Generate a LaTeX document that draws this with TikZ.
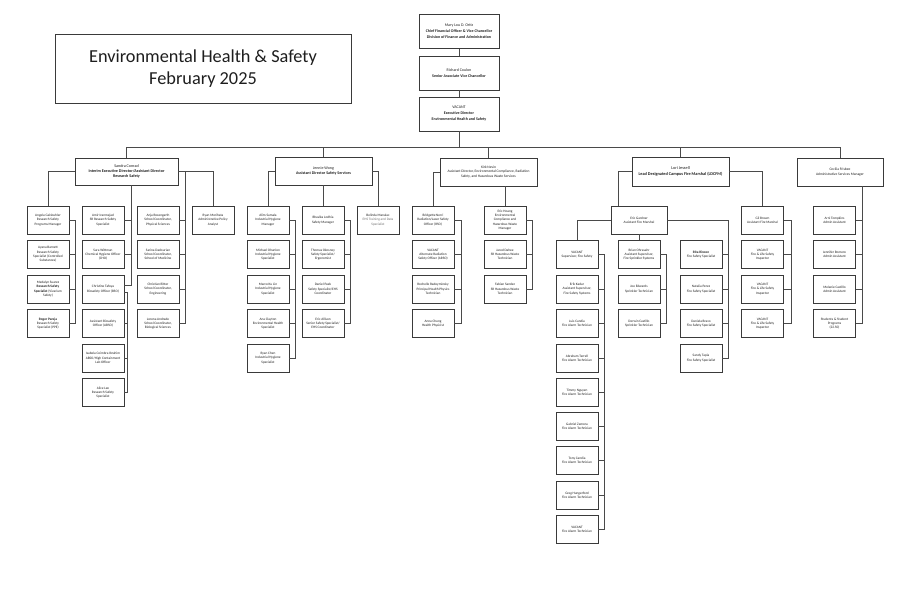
\documentclass[tikz,border=0pt]{standalone}
\usepackage{fontspec}
\setmainfont{Carlito}
\definecolor{boxc}{HTML}{3A3A3A}
\definecolor{linec}{HTML}{4A4A4A}
\definecolor{txtc}{HTML}{1E1E1E}
\definecolor{softc}{HTML}{707070}
\tikzset{
  kb/.style={draw=boxc, line width=0.85pt, fill=white, rectangle, align=center,
    inner sep=0.5pt, minimum width=42, minimum height=28, text=txtc,
    font=\fontsize{3.45}{4.3}\selectfont},
  hb/.style={kb, minimum height=28, font=\fontsize{4.1}{5.2}\selectfont},
  ln/.style={draw=linec, line width=0.85pt},
}
\newcommand{\mkbox}[4]{\node[kb] (#1) at (#2,#3) {#4};}
\begin{document}
\begin{tikzpicture}[x=1pt,y=-1pt]
\useasboundingbox (0,0) rectangle (920,590);
\fill[white] (0,0) rectangle (920,590);

% title
\node[draw=boxc, line width=0.9pt, minimum width=296, minimum height=69, align=center,
  font=\fontsize{18.3}{22.5}\selectfont, text=txtc] (title) at (203,68.5)
  {Environmental Health \& Safety\\February 2025};

% top chain
\node[hb, minimum width=80, minimum height=34.5, font=\fontsize{4}{6}\selectfont] (mary) at (459,31.2)
  {Mary Lou D. Ortiz\\\textbf{Chief Financial Officer \& Vice Chancellor}\\\textbf{Division of Finance and Administration}};
\node[hb, minimum width=80, minimum height=34, font=\fontsize{4}{6}\selectfont] (richard) at (459,73)
  {Richard Coulon\\\textbf{Senior Associate Vice Chancellor}};
\node[hb, minimum width=80, minimum height=34, font=\fontsize{4}{6}\selectfont] (vac) at (459,114)
  {VACANT\\\textbf{Executive Director}\\\textbf{Environmental Health and Safety}};

% second level
\node[hb, minimum width=103, minimum height=27] (sandra) at (126.5,171.5)
  {Sandra Conrad\\\textbf{Interim Executive Director/Assistant Director}\\\textbf{Research Safety}};
\node[hb, minimum width=97, minimum height=28, font=\fontsize{4}{5.4}\selectfont] (jennie) at (323.5,171)
  {Jennie Wong\\\textbf{Assistant Director Safety Services}};
\node[hb, minimum width=97, minimum height=28, font=\fontsize{3.6}{4.6}\selectfont] (kirk) at (488.5,172)
  {Kirk Nevin\\Assistant Director, Environmental Compliance, Radiation\\Safety, and Hazardous Waste Services};
\node[hb, minimum width=97, minimum height=29, font=\fontsize{4.3}{5.6}\selectfont] (lori) at (680.5,171.5)
  {Lori Jessell\\\textbf{Lead Designated Campus Fire Marshal (LDCFM)}};
\node[hb, minimum width=86, minimum height=28, font=\fontsize{3.6}{4.6}\selectfont] (cecilia) at (840,172)
  {Cecilia Frisbee\\Administrative Services Manager};

% Sandra's team
\mkbox{angela}{48}{220}{Angela Geisbuhler\\Research Safety\\Programs Manager}
\mkbox{ayana}{48}{254.5}{Ayana Barnett\\Research Safety\\Specialist (Controlled\\Substances)}
\mkbox{medalyn}{48}{289}{Medalyn Suarez\\\textbf{Research Safety}\\\textbf{Specialist} (Vivarium\\Safety)}
\mkbox{roger}{48}{323.5}{\textbf{Roger Pareja}\\Research Safety\\Specialist (PPE)}
\mkbox{amir}{103}{220}{Amir Iranmejad\\SR Research Safety\\Specialist}
\mkbox{sara}{103}{254.5}{Sara Wittman\\Chemical Hygiene Officer\\(CHO)}
\mkbox{christine}{103}{289}{Christine Tafoya\\Biosafety Officer (BSO)}
\mkbox{abso}{103}{323.5}{Assistant Biosafety\\Officer (ABSO)}
\mkbox{isabela}{103}{358}{Isabela Coimbra Ibrahim\\ABSO/High Containment\\Lab Officer}
\mkbox{alice}{103}{392.5}{Alice Lee\\Research Safety\\Specialist}
\mkbox{anja}{158}{220}{Anja Rosengarth\\School Coordinator,\\Physical Sciences}
\mkbox{sarina}{158}{254.5}{Sarina Dadourian\\School Coordinator,\\School of Medicine}
\mkbox{christian}{158}{289}{Christian Ritter\\School Coordinator,\\Engineering}
\mkbox{lorena}{158}{323.5}{Lorena Andrade\\School Coordinator,\\Biological Sciences}
\mkbox{ryanm}{213}{220}{Ryan Morihata\\Administrative Policy\\Analyst}

% Jennie's team
\mkbox{alim}{268}{220}{Alim Samala\\Industrial Hygiene\\Manager}
\mkbox{michael}{268}{254.5}{Michael Ohanlon\\Industrial Hygiene\\Specialist}
\mkbox{marco}{268}{289}{Marco Ku Lin\\Industrial Hygiene\\Specialist}
\mkbox{ana}{268}{323.5}{Ana Clayton\\Environmental Health\\Specialist}
\mkbox{ryanc}{268}{358}{Ryan Chen\\Industrial Hygiene\\Specialist}
\mkbox{bhavika}{323}{220}{Bhavika Lodhia\\Safety Manager}
\mkbox{thomas}{323}{254.5}{Thomas Okosney\\Safety Specialist/\\Ergonomist}
\mkbox{daniel}{323}{289}{Daniel Paek\\Safety Specialist/EHS\\Coordinator}
\mkbox{erica}{323}{323.5}{Eric Allison\\Senior Safety Specialist/\\EHS Coordinator}
\mkbox{belinda}{378}{220}{Belinda Manalac\\\textcolor{softc}{EHS Training and Data}\\\textcolor{softc}{Specialist}}

% Kirk's team
\mkbox{bridgette}{433}{220}{Bridgette Nerri\\Radiation/Laser Safety\\Officer (RSO)}
\mkbox{varso}{433}{254.5}{VACANT\\Alternate Radiation\\Safety Officer (ARSO)}
\mkbox{rochelle}{433}{289}{Rochelle Radoyminsky\\Principal Health Physics\\Technician}
\mkbox{anna}{433}{323.5}{Anna Chung\\Health Physicist}
\mkbox{hoang}{505}{220}{Eric Hoang\\Environmental\\Compliance and\\Hazardous Waste\\Manager}
\mkbox{jared}{505}{254.5}{Jared Dahee\\SR Hazardous Waste\\Technician}
\mkbox{fabian}{505}{289}{Fabian Sandez\\SR Hazardous Waste\\Technician}

% Lori's team
\node[kb, minimum width=56] (gardner) at (639,220) {Eric Gardner\\Assistant Fire Marshal};
\mkbox{vsup}{577}{254.5}{VACANT\\Supervisor, Fire Safety}
\mkbox{erik}{577}{289}{Erik Kadar\\Assistant Supervisor,\\Fire Safety Systems}
\mkbox{luis}{577}{323.5}{Luis Candia\\Fire Alarm Technician}
\mkbox{abraham}{577}{358}{Abraham Terrell\\Fire Alarm Technician}
\mkbox{timmy}{577}{392.5}{Timmy Nguyen\\Fire Alarm Technician}
\mkbox{gabriel}{577}{426}{Gabriel Zamora\\Fire Alarm Technician}
\mkbox{tony}{577}{460.5}{Tony Candia\\Fire Alarm Technician}
\mkbox{greg}{577}{495}{Greg Hungerford\\Fire Alarm Technician}
\mkbox{vfat}{577}{529.5}{VACANT\\Fire Alarm Technician}
\mkbox{brian}{639}{254.5}{Brian Ohrasahr\\Assistant Supervisor,\\Fire Sprinkler Systems}
\mkbox{joe}{639}{289}{Joe Edwards\\Sprinkler Technician}
\mkbox{derwin}{639}{323.5}{Derwin Castillo\\Sprinkler Technician}
\mkbox{rita}{701}{254.5}{\textbf{Rita Rincon}\\Fire Safety Specialist}
\mkbox{natalia}{701}{289}{Natalia Perez\\Fire Safety Specialist}
\mkbox{daniela}{701}{323.5}{Daniela Bravo\\Fire Safety Specialist}
\mkbox{sandy}{701}{358}{Sandy Tapia\\Fire Safety Specialist}
\mkbox{gil}{762.5}{220}{Gil Brown\\Assistant Fire Marshal}
\mkbox{inspa}{762.5}{254.5}{VACANT\\Fire \& Life Safety\\Inspector}
\mkbox{inspb}{762.5}{289}{VACANT\\Fire \& Life Safety\\Inspector}
\mkbox{inspc}{762.5}{323.5}{VACANT\\Fire \& Life Safety\\Inspector}

% Cecilia's team
\mkbox{arni}{834.5}{220}{Arni Tompkins\\Admin Assistant}
\mkbox{jennifer}{834.5}{254.5}{Jennifer Romero\\Admin Assistant}
\mkbox{melanie}{834.5}{289}{Melanie Castillo\\Admin Assistant}
\mkbox{students}{834.5}{323.5}{Students \& Student\\Programs\\(22.50)}

% ---------- connectors ----------
\draw[ln] (mary.south) -- (richard.north);
\draw[ln] (richard.south) -- (vac.north);
\coordinate (bus) at (0,147);
\draw[ln] (vac.south) -- (vac.south |- bus);
\draw[ln] (sandra.north) -- (sandra.north |- bus) -- (cecilia.north |- bus) -- (cecilia.north);
\foreach \n in {jennie,kirk,lori} \draw[ln] (\n.north) -- (\n.north |- bus);

% Sandra
\draw[ln] (sandra.west) -| (angela.north);
\draw[ln] (sandra.east) -| (ryanm.north);
\draw[ln] (angela.east) -- ++(6,0) |- (roger.east);
\foreach \n in {ayana,medalyn} \draw[ln] (\n.east) -- ++(6,0);
\coordinate (st) at ([xshift=4.5pt]sandra.south);
\draw[ln] (st) |- ([yshift=3.5pt]christine.east);
\foreach \n in {amir,sara} \draw[ln] (\n.east) -- (\n.east -| st);
\draw[ln] ([yshift=-3.5pt]christine.east) -- ++(3,0) |- (alice.east);
\foreach \n in {abso,isabela} \draw[ln] (\n.east) -- ++(3,0);
\coordinate (sb) at ([xshift=6pt]sandra.east -| anja.east);
\draw[ln] (sb) |- (lorena.east);
\foreach \n in {anja,sarina,christian} \draw[ln] (\n.east) -- (\n.east -| sb);

% Jennie
\draw[ln] (jennie.west) -| (alim.north);
\draw[ln] (jennie.east) -| (belinda.north);
\draw[ln] (jennie.south -| bhavika.north) -- (bhavika.north);
\draw[ln] (alim.east) -- ++(6,0) |- (ryanc.east);
\foreach \n in {michael,marco,ana} \draw[ln] (\n.east) -- ++(6,0);
\draw[ln] (bhavika.east) -- ++(6,0) |- (erica.east);
\foreach \n in {thomas,daniel} \draw[ln] (\n.east) -- ++(6,0);

% Kirk
\draw[ln] (kirk.west) -| (bridgette.north);
\draw[ln] (kirk.south -| hoang.north) -- (hoang.north);
\draw[ln] (bridgette.east) -- ++(7,0) |- (anna.east);
\foreach \n in {varso,rochelle} \draw[ln] (\n.east) -- ++(7,0);
\draw[ln] (hoang.east) -- ++(6,0) |- (fabian.east);
\draw[ln] (jared.east) -- ++(6,0);

% Lori
\draw[ln] (lori.west) -| ([xshift=-21pt]gardner.north);
\draw[ln] (lori.east) -| (gil.north);
\draw[ln] (gardner.west) -| (vsup.north);
\draw[ln] (gardner.south) -- (brian.north);
\coordinate (gb) at ([xshift=6pt]gardner.east -| rita.east);
\draw[ln] (gardner.east) -- (gb) |- (sandy.east);
\foreach \n in {rita,natalia,daniela} \draw[ln] (\n.east) -- (\n.east -| gb);
\draw[ln] (vsup.east) -- ++(6,0) |- (vfat.east);
\foreach \n in {erik,luis,abraham,timmy,gabriel,tony,greg} \draw[ln] (\n.east) -- ++(6,0);
\draw[ln] (brian.east) -- ++(6,0) |- (derwin.east);
\draw[ln] (joe.east) -- ++(6,0);
\draw[ln] (gil.east) -- ++(7,0) |- (inspc.east);
\foreach \n in {inspa,inspb} \draw[ln] (\n.east) -- ++(7,0);

% Cecilia
\coordinate (cb) at ([xshift=6pt]cecilia.south -| students.east);
\draw[ln] (cb) |- (students.east);
\foreach \n in {arni,jennifer,melanie} \draw[ln] (\n.east) -- (\n.east -| cb);
\end{tikzpicture}
\end{document}
